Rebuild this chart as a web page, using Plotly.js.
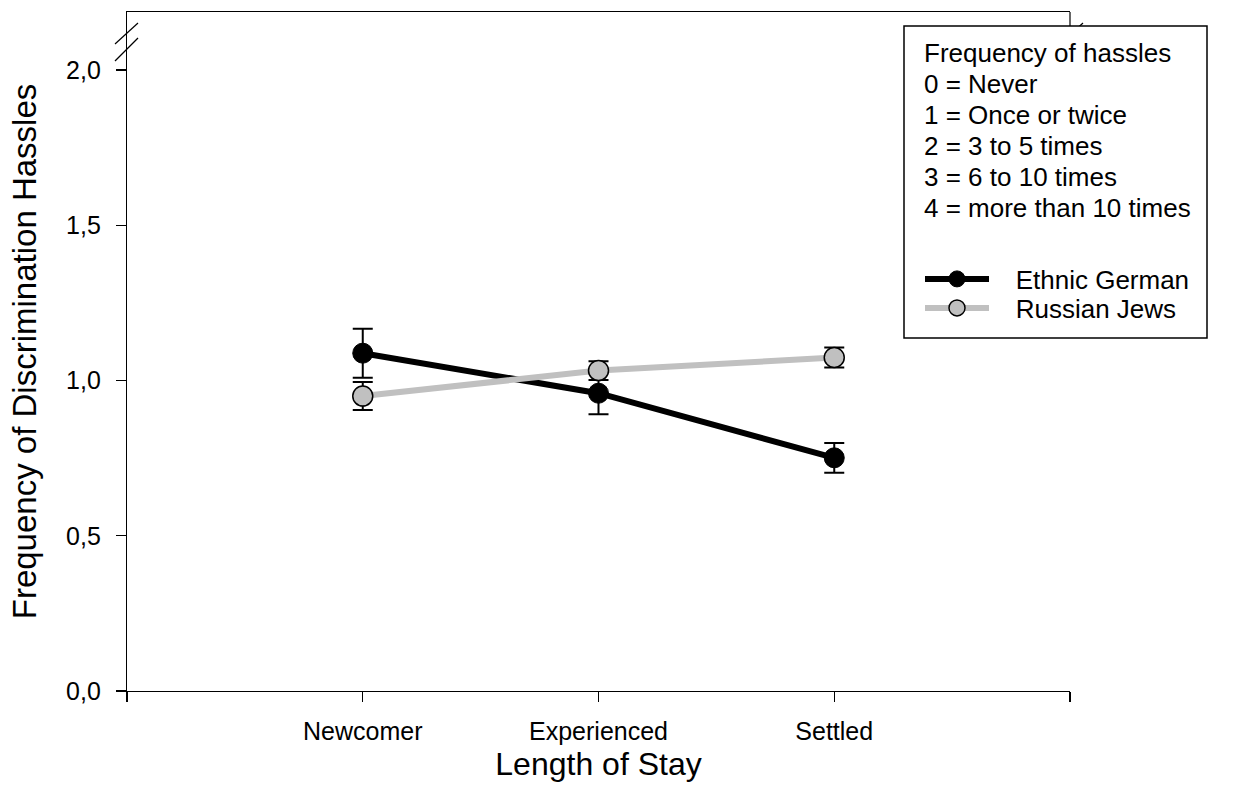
<!DOCTYPE html>
<html>
<head>
<meta charset="utf-8">
<script src="https://cdn.plot.ly/plotly-3.0.1.min.js"></script>
<style>html,body{margin:0;padding:0;background:#fff;}#chart{width:1245px;height:803px;}</style>
</head>
<body>
<div id="chart"></div>
<script>
// ---- data ----
const categories = ["Newcomer", "Experienced", "Settled"];
const ethnicGerman = [1.088, 0.959, 0.751];
const ethnicGermanErr = [0.079, 0.068, 0.048];
const russianJews = [0.950, 1.032, 1.074];
const russianJewsErr = [0.045, 0.030, 0.032];
const seriesNames = ["Ethnic German", "Russian Jews"];
const yTickVals = [0, 0.5, 1.0, 1.5, 2.0];
const legendNoteLines = [
  "Frequency of hassles",
  "0 = Never",
  "1 = Once or twice",
  "2 = 3 to 5 times",
  "3 = 6 to 10 times",
  "4 = more than 10 times"
];

const xIdx = categories.map((c, i) => i);
const FONT = "Liberation Sans, Arial, sans-serif";
const GAP = "\u00A0\u00A0\u00A0";

const traces = [
  {
    name: GAP + seriesNames[0], legend: "legend",
    x: xIdx, y: ethnicGerman,
    type: "scatter", mode: "lines+markers",
    line: {color: "#000000", width: 6},
    marker: {color: "#000000", size: 20, line: {color: "#000000", width: 1}},
    error_y: {type: "data", array: ethnicGermanErr, visible: true, color: "#000000", thickness: 2, width: 10}
  },
  {
    name: GAP + seriesNames[1], legend: "legend2",
    x: xIdx, y: russianJews,
    type: "scatter", mode: "lines+markers",
    line: {color: "#c0c0c0", width: 6},
    marker: {color: "#c0c0c0", size: 20, line: {color: "#000000", width: 1.5}},
    error_y: {type: "data", array: russianJewsErr, visible: true, color: "#000000", thickness: 2, width: 10}
  }
];

// pixel helpers for decorations (plot area: x 127..1070, y 12..691)
const px = v => (v - 127) / 943;
const py = v => (691 - v) / 679;

const shapes = [
  {type: "line", xref: "paper", yref: "paper", x0: 1.0, x1: 1.0, y0: 1.0, y1: py(338), line: {color: "#000", width: 1.2}},
  {type: "line", xref: "paper", yref: "paper", x0: px(115), y0: py(44), x1: px(138), y1: py(23), line: {color: "#000", width: 1.2}},
  {type: "line", xref: "paper", yref: "paper", x0: px(115), y0: py(61), x1: px(138), y1: py(38), line: {color: "#000", width: 1.2}},
  {type: "line", xref: "paper", yref: "paper", x0: px(1060), y0: py(44), x1: px(1083), y1: py(23), line: {color: "#000", width: 1.2}},
  {type: "line", xref: "paper", yref: "paper", x0: px(1060), y0: py(61), x1: px(1083), y1: py(38), line: {color: "#000", width: 1.2}},
  {type: "rect", xref: "paper", yref: "paper", x0: px(904), x1: px(1207), y0: py(338), y1: py(26), fillcolor: "#ffffff", line: {color: "#000", width: 1.5}, layer: "above"}
];

const annotations = legendNoteLines.map((t, i) => ({
  xref: "paper", yref: "paper", x: px(922), y: py(53 + 31 * i),
  xanchor: "left", yanchor: "middle", align: "left", showarrow: false,
  text: t,
  font: {family: FONT, size: 26, color: "#000"}
}));

const legendCommon = {
  xanchor: "left", yanchor: "middle",
  bgcolor: "rgba(0,0,0,0)", borderwidth: 0,
  font: {family: FONT, size: 26, color: "#000"},
  itemwidth: 64
};

const layout = {
  width: 1245, height: 803,
  margin: {l: 127, r: 175, t: 12, b: 112, pad: 0},
  paper_bgcolor: "#ffffff", plot_bgcolor: "#ffffff",
  separators: ",.",
  font: {family: FONT, color: "#000"},
  showlegend: true,
  legend: Object.assign({x: px(920), y: py(279)}, legendCommon),
  legend2: Object.assign({x: px(920), y: py(308)}, legendCommon),
  xaxis: {
    range: [-1, 3], tickmode: "array",
    tickvals: [-1].concat(xIdx, [categories.length]),
    ticktext: [""].concat(categories, [""]),
    showgrid: false, zeroline: false,
    showline: true, linecolor: "#000", linewidth: 1.2, mirror: true,
    ticks: "outside", ticklen: 10, tickwidth: 1.2, tickcolor: "#000",
    ticklabelstandoff: 8,
    tickfont: {family: FONT, size: 25, color: "#000"},
    title: {text: "Length of Stay", font: {family: FONT, size: 32, color: "#000"}, standoff: 8},
    automargin: false
  },
  yaxis: {
    range: [0, 679 / 310.5], tickmode: "array", tickvals: yTickVals, tickformat: ".1f",
    showgrid: false, zeroline: false,
    showline: true, linecolor: "#000", linewidth: 1.2,
    ticks: "outside", ticklen: 10, tickwidth: 1.2, tickcolor: "#000",
    ticklabelstandoff: 10,
    tickfont: {family: FONT, size: 25, color: "#000"},
    title: {text: "Frequency of Discrimination Hassles", font: {family: FONT, size: 33, color: "#000"}, standoff: 19},
    automargin: false
  },
  shapes: shapes,
  annotations: annotations
};

Plotly.newPlot("chart", traces, layout, {displayModeBar: false, staticPlot: true});
</script>
</body>
</html>
